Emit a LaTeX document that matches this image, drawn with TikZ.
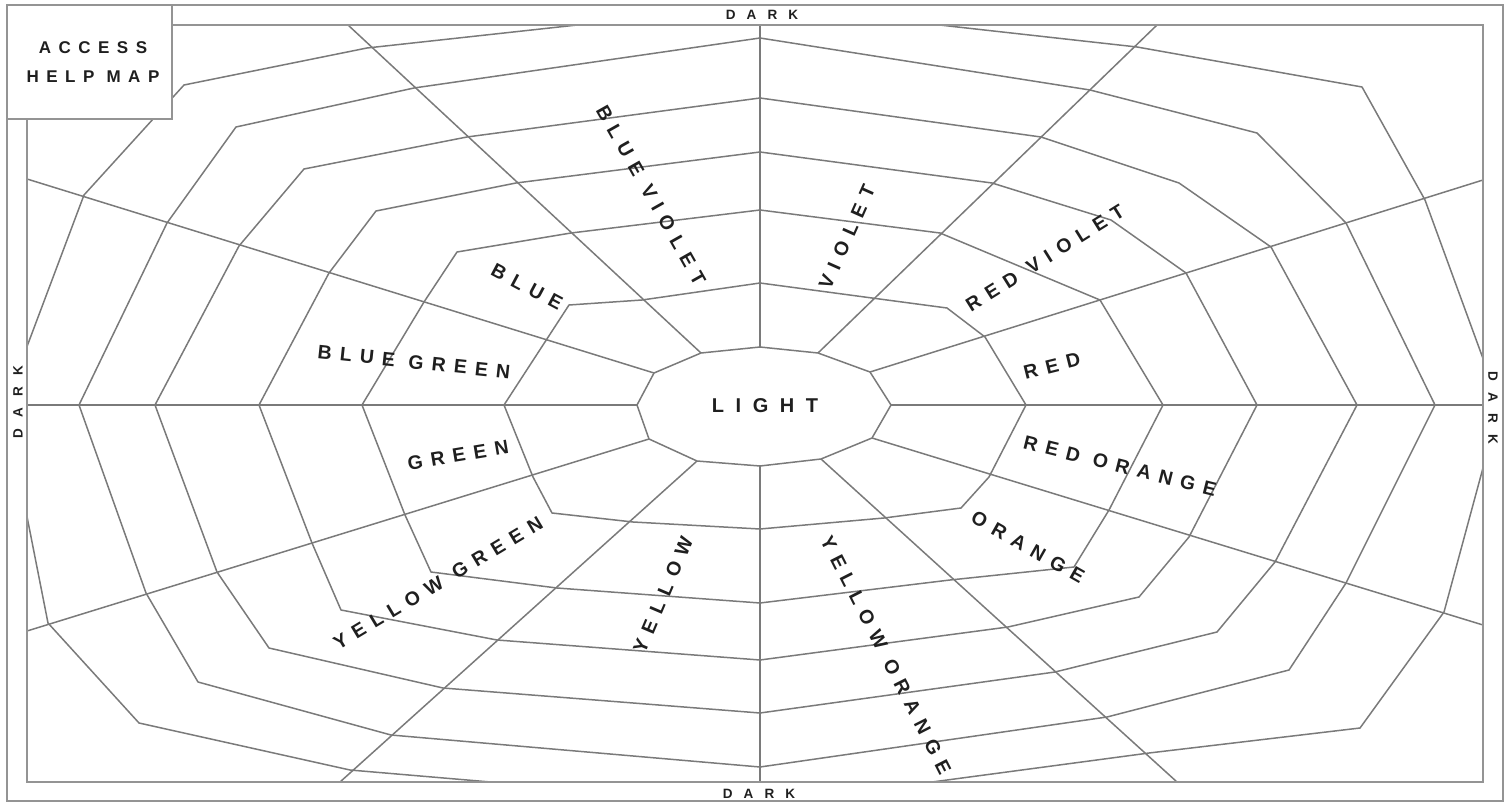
\documentclass[tikz,border=0pt]{standalone}
\usepackage{fontspec}
\setmainfont{Liberation Sans}
\newfontfamily\labfont[LetterSpace=42]{Liberation Sans Bold}
\newfontfamily\lightfont[LetterSpace=58]{Liberation Sans Bold}
\newfontfamily\darkfont[LetterSpace=82]{Liberation Sans Bold}
\newfontfamily\accfont[LetterSpace=44]{Liberation Sans Bold}
\begin{document}
\begin{tikzpicture}[x=1pt,y=-1pt,
  web/.style={draw=black!52,line width=1.5pt,line join=round},
  frame/.style={draw=black!42,line width=2pt},
  lab/.style={inner sep=0pt,text=black!88,font=\labfont\fontsize{19.5}{19.5}\selectfont},
  darklab/.style={inner sep=0pt,text=black!88,font=\darkfont\fontsize{13.5}{13.5}\selectfont}]
\useasboundingbox (0,0) rectangle (1509,802);
% ring 1 vertices
\coordinate (c0) at (891,405);
\coordinate (c1) at (870,372);
\coordinate (c2) at (818,353);
\coordinate (c3) at (760,347);
\coordinate (c4) at (701,353);
\coordinate (c5) at (654,373);
\coordinate (c6) at (637,405);
\coordinate (c7) at (649,439);
\coordinate (c8) at (697,461);
\coordinate (c9) at (760,466);
\coordinate (c10) at (821,459);
\coordinate (c11) at (872,438);
% radial ends on the frame
\coordinate (e0) at (1483,405);
\coordinate (e1) at (1483,180);
\coordinate (e2) at (1157,25);
\coordinate (e3) at (760,25);
\coordinate (e4) at (348,25);
\coordinate (e5) at (27,179);
\coordinate (e6) at (27,405);
\coordinate (e7) at (27,631);
\coordinate (e8) at (340,782);
\coordinate (e9) at (760,782);
\coordinate (e10) at (1177,782);
\coordinate (e11) at (1483,625);
\begin{scope}
\clip (27,25) rectangle (1483,782);
\draw[web] (c0)--(c1)--(c2)--(c3)--(c4)--(c5)--(c6)--(c7)--(c8)--(c9)--(c10)--(c11)--cycle;
\foreach \i in {0,...,11} {\draw[web] (c\i)--(e\i);}
% ring 2
\draw[web] (760,283)--(872,298)--(947,308)--(985,337)--(1026,405)--(989,477)--(961,508)--(884,518)--(760,529)--(633,522)--(552,513)--(533,477)--(504,405)--(569,305)--(642,300)--cycle;
% ring 3
\draw[web] (760,210)--(940,233)--(1100,300)--(1163,405)--(1109,510)--(1074,567)--(950,580)--(760,603)--(557,588)--(431,572)--(405,515)--(362,405)--(424,302)--(457,252)--(571,233)--cycle;
% ring 4
\draw[web] (760,152)--(992,183)--(1111,220)--(1186,273)--(1257,405)--(1189,537)--(1139,597)--(1008,627)--(760,660)--(497,640)--(341,610)--(312,543)--(259,405)--(329,273)--(376,211)--(516,183)--cycle;
% ring 5
\draw[web] (760,98)--(1041,137)--(1179,183)--(1271,247)--(1357,405)--(1275,562)--(1217,632)--(1055,672)--(760,713)--(443,688)--(269,648)--(217,572)--(155,405)--(239,246)--(304,169)--(467,137)--cycle;
% ring 6
\draw[web] (760,38)--(1090,90)--(1257,133)--(1346,223)--(1435,405)--(1346,583)--(1289,670)--(1107,717)--(760,767)--(391,735)--(198,682)--(146,593)--(79,405)--(167,223)--(236,127)--(414,88)--cycle;
% ring 7
\draw[web] (760,5)--(1137,47)--(1362,87)--(1425,200)--(1500,405)--(1444,612)--(1360,728)--(1149,753)--(760,805)--(350,770)--(139,723)--(48,623)--(5,405)--(84,195)--(184,85)--(367,48)--cycle;
\end{scope}
% frame
\draw[frame] (7,5) rectangle (1503,801);
\draw[frame] (27,25) rectangle (1483,782);
\draw[frame,fill=white] (7,5) rectangle (172,119);
% labels
\node[inner sep=0pt,align=center,text=black!88,font=\accfont\fontsize{17}{29}\selectfont] (access) at (93,62) {ACCESS\\HELP MAP};
\node[inner sep=0pt,text=black!88,font=\lightfont\fontsize{20}{20}\selectfont] (light) at (765,406) {LIGHT};
\node[darklab] (dtop) at (762,15) {DARK};
\node[darklab] (dbot) at (759,794) {DARK};
\node[darklab,rotate=90] (dleft) at (18,402) {DARK};
\node[darklab,rotate=-90] (dright) at (1493,408) {DARK};
\node[lab,rotate=-60.5] (bv) at (651,195) {BLUE VIOLET};
\node[lab,rotate=66] (v) at (847,237) {VIOLET};
\node[lab,rotate=32] (rv) at (1045,258) {RED VIOLET};
\node[lab,rotate=14] (r) at (1052,366) {RED};
\node[lab,rotate=-28] (b) at (527,287) {BLUE};
\node[lab,rotate=-6] (bg) at (414,362) {BLUE GREEN};
\node[lab,rotate=9.5] (g) at (458,455) {GREEN};
\node[lab,rotate=31] (yg) at (438,583) {YELLOW GREEN};
\node[lab,rotate=67] (y) at (663,595) {YELLOW};
\node[lab,rotate=-63] (yo) at (886,655) {YELLOW ORANGE};
\node[lab,rotate=-29.5] (o) at (1028,547) {ORANGE};
\node[lab,rotate=-14] (ro) at (1120,466) {RED ORANGE};
\end{tikzpicture}
\end{document}
